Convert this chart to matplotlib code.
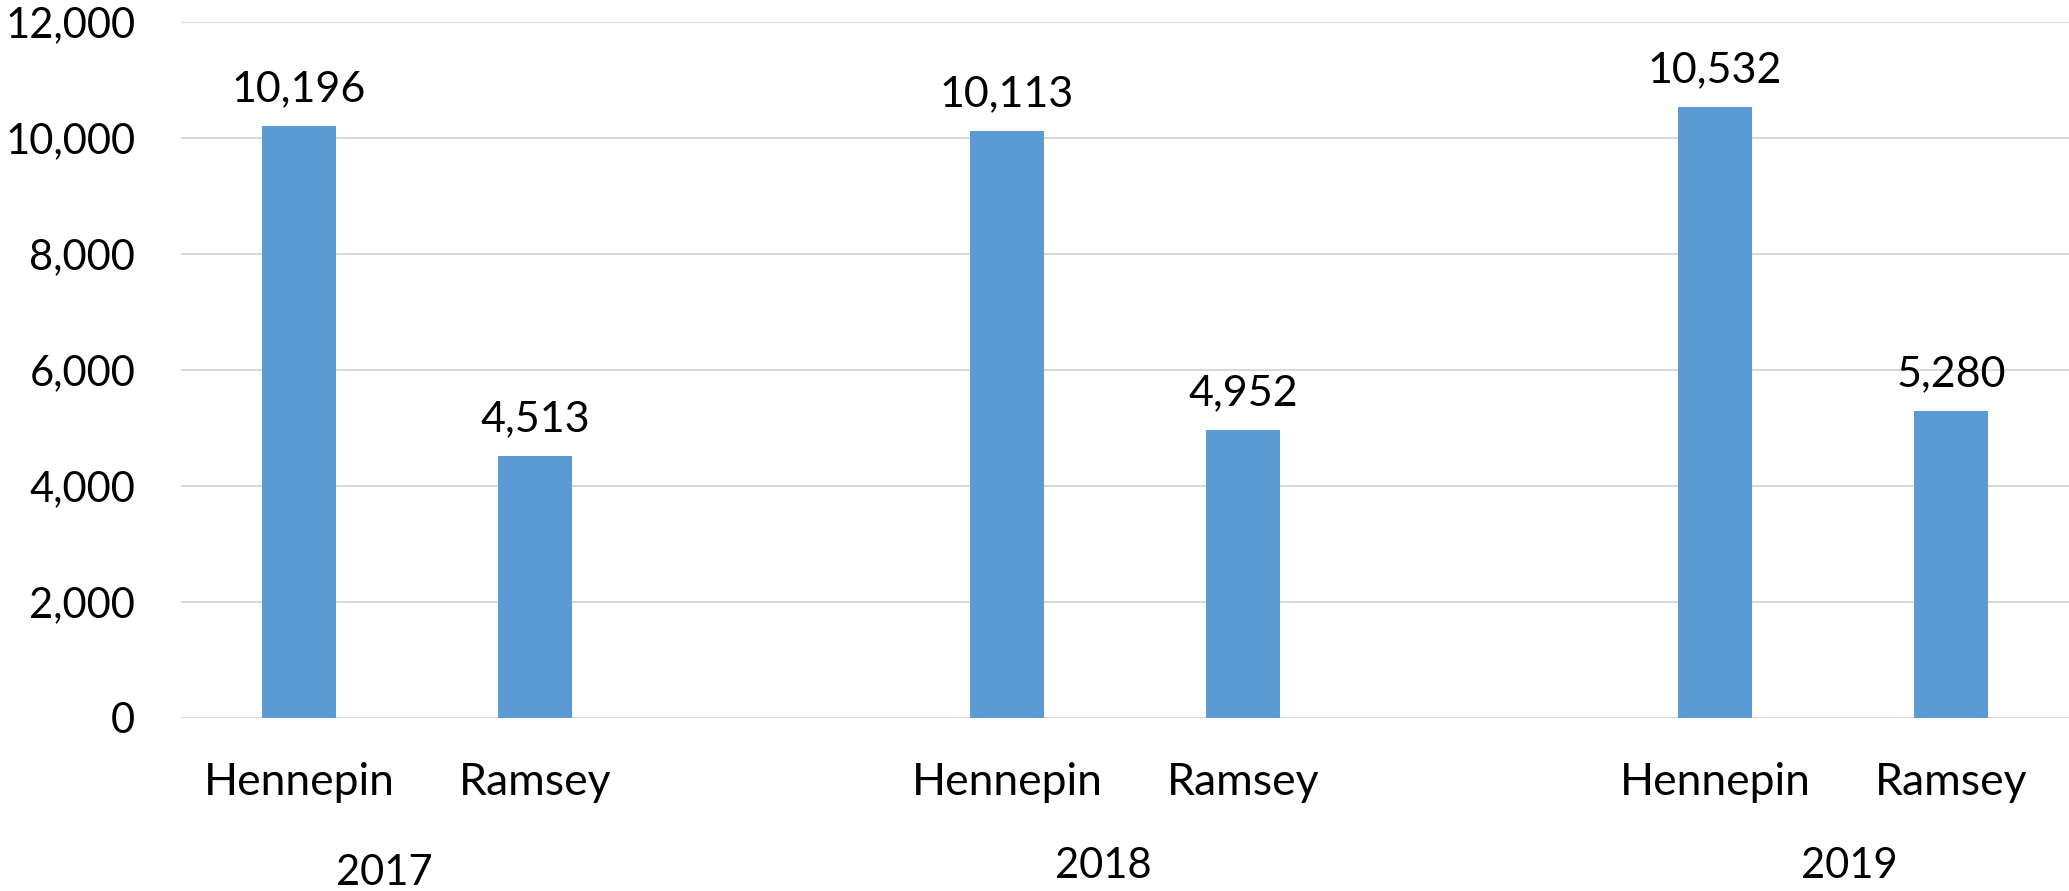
import matplotlib
matplotlib.use("Agg")
import matplotlib.pyplot as plt
import matplotlib.transforms as mtransforms

# ---- data ----
years = ["2017", "2018", "2019"]
counties = ["Hennepin", "Ramsey"]
hennepin = [10196, 10113, 10532]
ramsey = [4513, 4952, 5280]
y_ticks = [0, 2000, 4000, 6000, 8000, 10000, 12000]

# ---- style / layout ----
BAR_COLOR = "#5B9BD5"
GRID_COLOR = "#D9D9D9"
FONT = ["Lato", "DejaVu Sans"]
plt.rcParams["font.family"] = FONT

W, H, DPI = 2069, 891, 100
fig = plt.figure(figsize=(W / DPI, H / DPI), dpi=DPI)
ax = fig.add_axes([181 / W, (H - 717.7) / H, (W - 181) / W, (717.7 - 21.7) / H])

group_step = 3
bar_w = 0.31
year_label_shift = [-0.14, -0.09, 0.07]   # Excel-style offsets of the year labels
year_label_base = [885, 878, 878]          # baseline in pixels from top

values = []
positions = []
labels = []
for gi, yr in enumerate(years):
    for ci, (cname, series) in enumerate(zip(counties, [hennepin, ramsey])):
        positions.append(gi * group_step + ci)
        values.append(series[gi])
        labels.append(cname)

bars = ax.bar(positions, values, width=bar_w, color=BAR_COLOR, zorder=3)

for b, v in zip(bars, values):
    ax.annotate(f"{v:,}", (b.get_x() + b.get_width() / 2, v),
                xytext=(0, 18), textcoords="offset points",
                ha="center", va="baseline", fontsize=31, color="black")

ax.set_xlim(-0.5, 7.5)
ax.set_ylim(0, 12000)
ax.set_yticks(y_ticks)
ax.set_yticklabels([f"{t:,}" for t in y_ticks], fontsize=30)
ax.tick_params(axis="y", length=0, pad=33)
ax.set_xticks([])
ax.yaxis.grid(True, color=GRID_COLOR, linewidth=1.5, zorder=0)
ax.set_axisbelow(True)
for s in ax.spines.values():
    s.set_visible(False)

trans = mtransforms.blended_transform_factory(ax.transData, fig.transFigure)
for p, lab in zip(positions, labels):
    ax.text(p, (H - 795) / H, lab, transform=trans, ha="center",
            va="baseline", fontsize=32, color="black")

for gi, yr in enumerate(years):
    xc = gi * group_step + 0.5 + year_label_shift[gi]
    ax.text(xc, (H - year_label_base[gi]) / H, yr, transform=trans,
            ha="center", va="baseline", fontsize=30, color="black")

fig.savefig("out.png", dpi=DPI, facecolor="white")
